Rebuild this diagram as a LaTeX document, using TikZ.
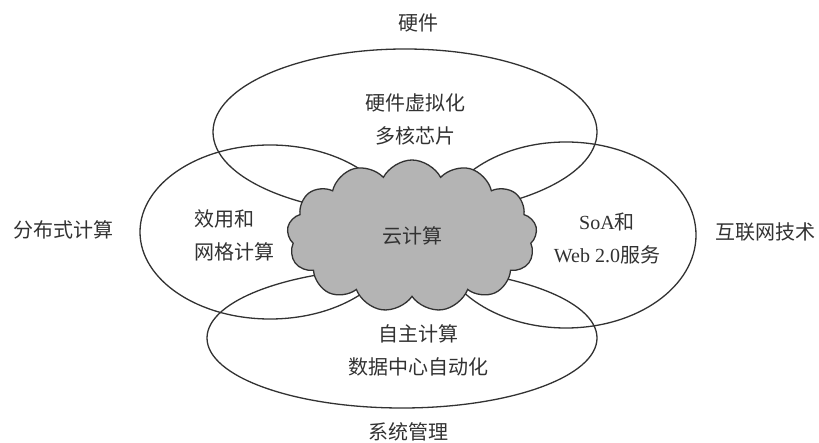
\documentclass[tikz,border=0pt]{standalone}
\usepackage{fontspec}
\setmainfont{Liberation Serif}
\newfontfamily\cjk{Noto Sans CJK SC}
\usetikzlibrary{shapes.geometric,shapes.symbols}
\definecolor{ink}{RGB}{50,50,50}
\definecolor{cloudgray}{RGB}{180,180,180}
\begin{document}
\begin{tikzpicture}[x=1pt,y=-1pt,
  ring/.style={draw=ink, line width=1.3pt, ellipse, inner sep=0pt},
  lbl/.style={text=ink, font=\cjk\fontsize{20}{33}\selectfont, inner sep=0pt},
  puffcloud/.style={cloud, cloud puffs=13, cloud puff arc=125, aspect=1.64,
    draw=ink, line width=1.3pt, fill=cloudgray, inner sep=0pt,
    minimum width=250pt, minimum height=152pt, text=ink,
    font=\cjk\fontsize{20}{33}\selectfont}]
\useasboundingbox (0,0) rectangle (819,443);
\fill[white] (0,0) rectangle (819,443);
% rings
\node[ring, minimum width=384pt, minimum height=166pt] (hw) at (405,132) {};
\node[ring, minimum width=260pt, minimum height=174pt] (dist) at (270,232) {};
\node[ring, minimum width=260pt, minimum height=186pt] (inet) at (566,235) {};
\node[ring, minimum width=390pt, minimum height=140pt] (sys) at (402,338) {};
% cloud
\node[puffcloud] (cc) at (412,236) {云计算};
% outer labels
\node[lbl] (lhw) at (418,23) {硬件};
\node[lbl] (ldist) at (63,230) {分布式计算};
\node[lbl] (linet) at (765,232) {互联网技术};
\node[lbl] (lsys) at (408,432) {系统管理};
% inner labels
\node[lbl, align=center] (ihw) at (415,119) {硬件虚拟化\\多核芯片};
\node[lbl, align=left, anchor=west] (idist) at (194,235) {效用和\\网格计算};
\node[lbl, align=center] (iinet) at (607,239) {{\rmfamily SoA}和\\{\rmfamily Web 2.0}服务};
\node[lbl, align=center] (isys) at (418,350) {自主计算\\数据中心自动化};
\end{tikzpicture}
\end{document}
